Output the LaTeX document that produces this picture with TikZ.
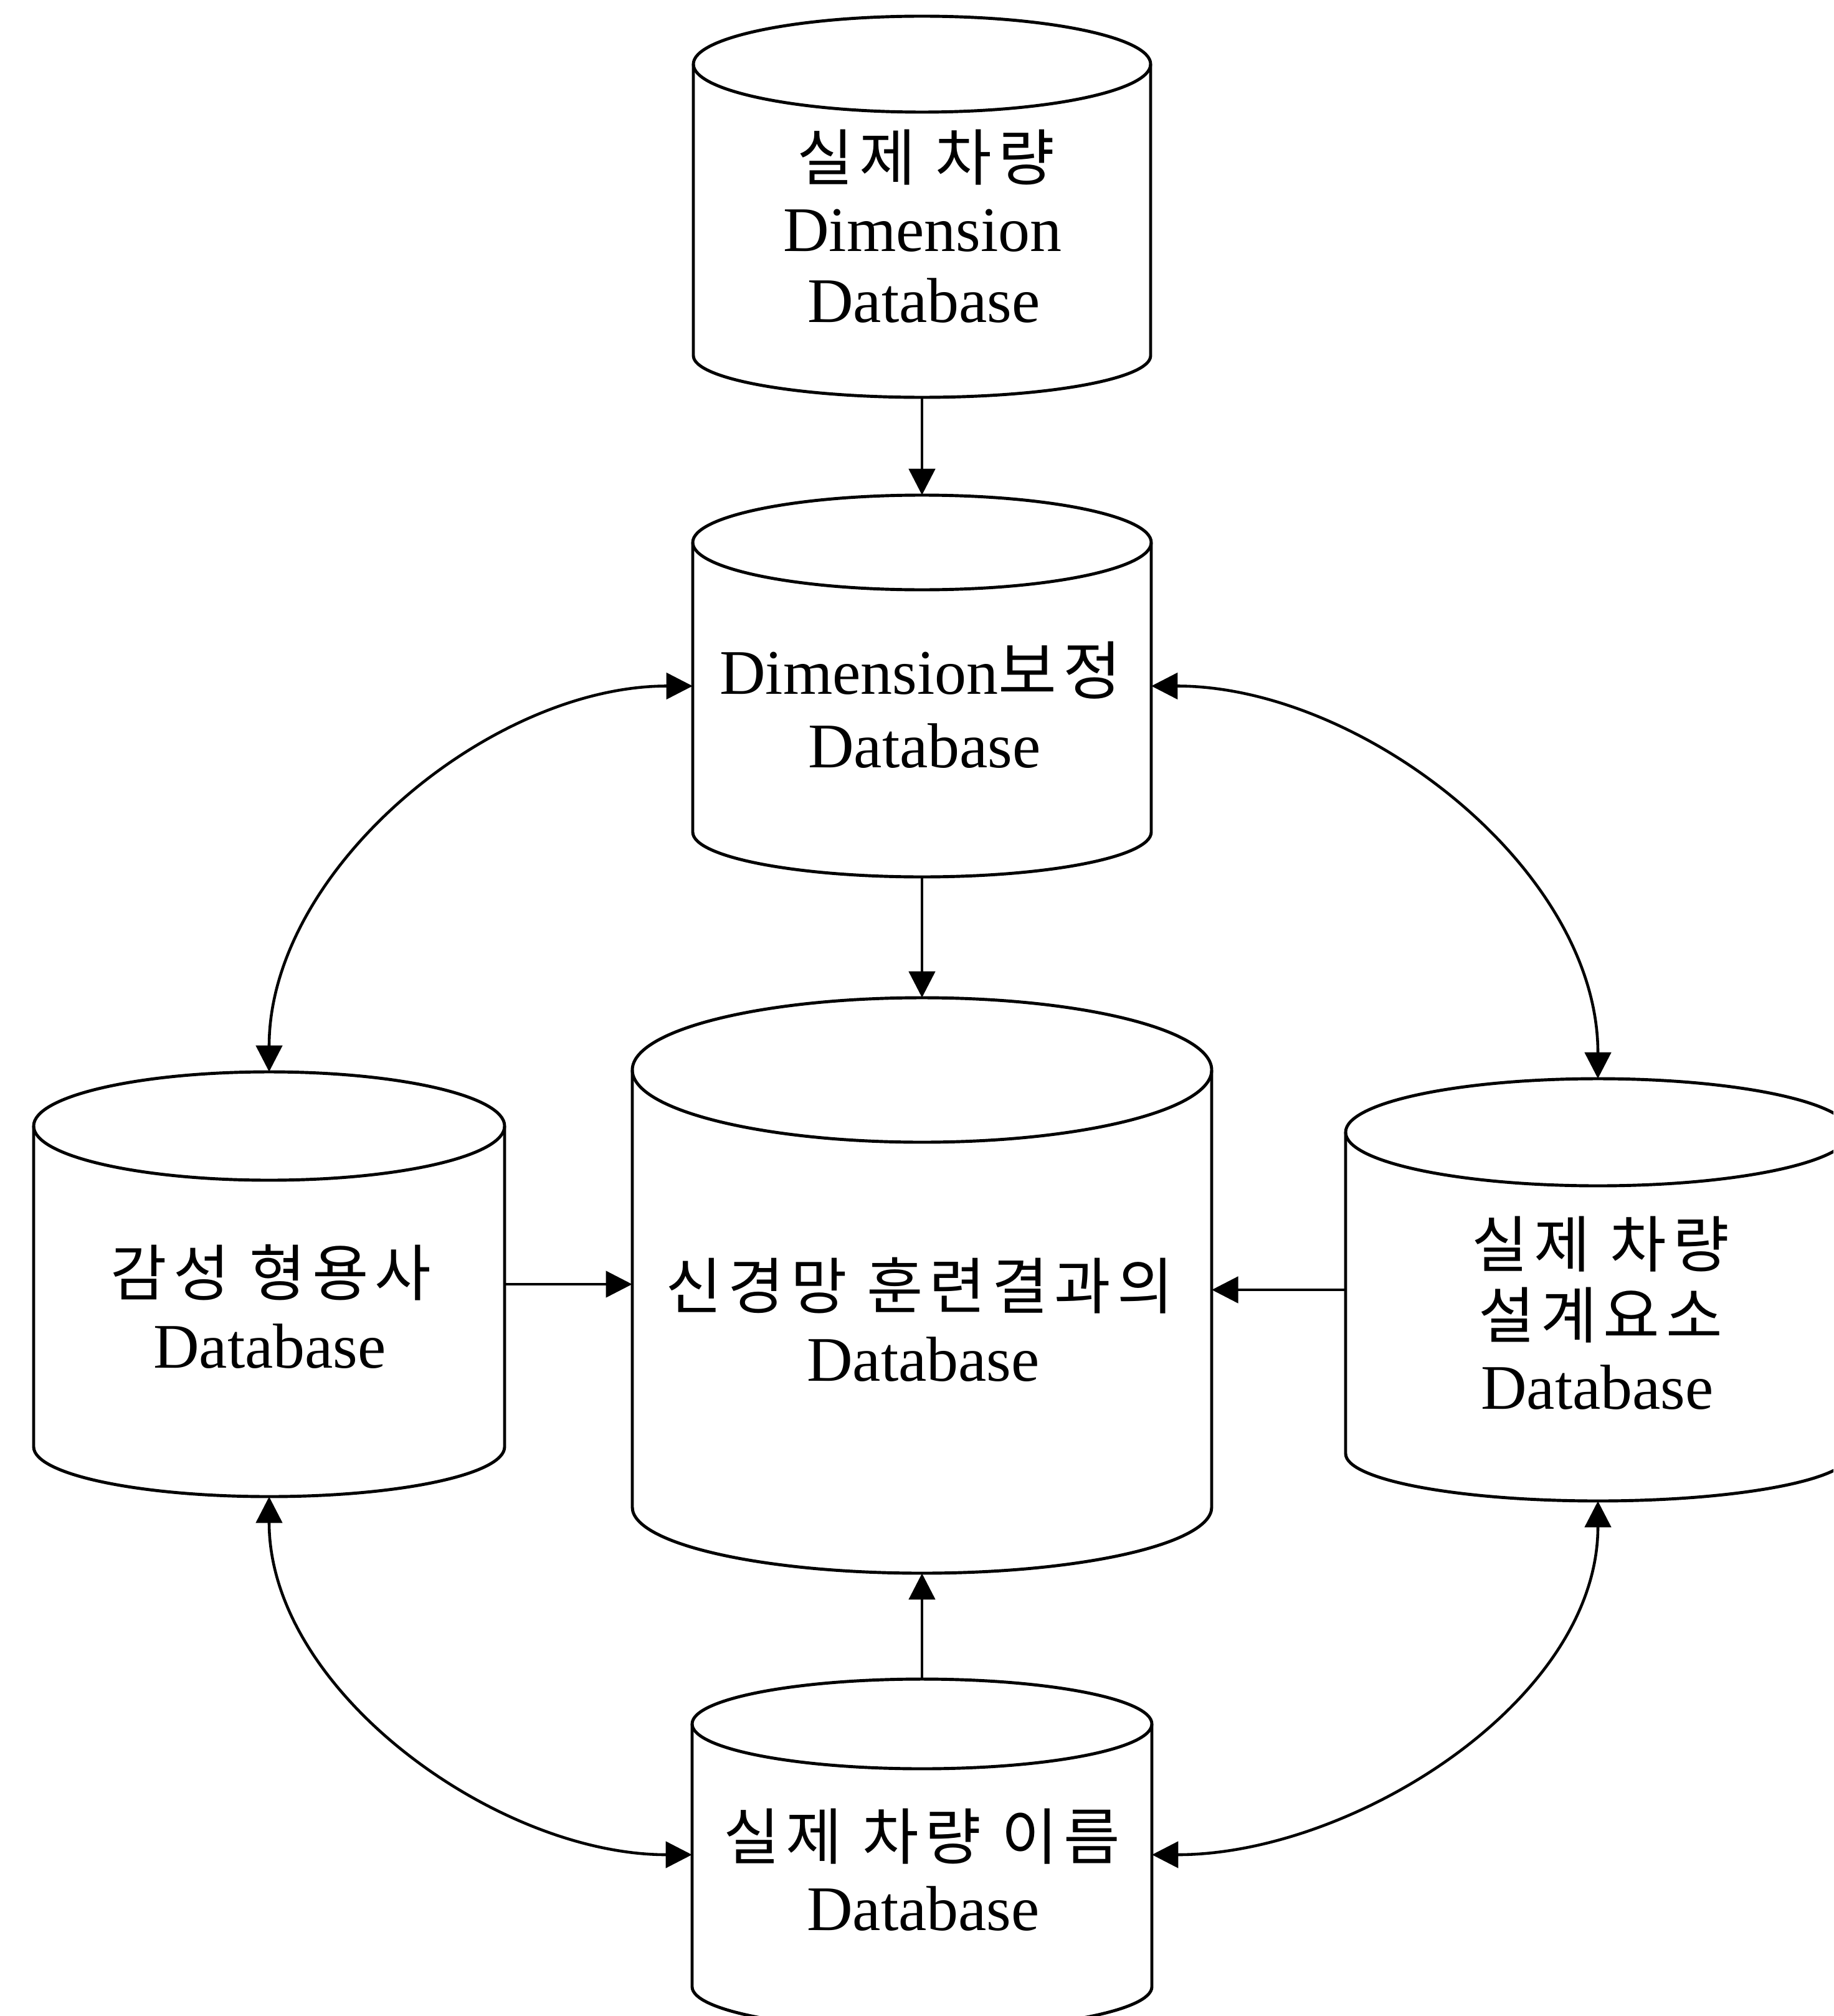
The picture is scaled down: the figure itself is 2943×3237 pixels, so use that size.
\documentclass[tikz,border=0pt]{standalone}
\usepackage{fontspec}
\setmainfont{Liberation Serif}
\newfontfamily\krfont[LetterSpace=10]{Noto Sans CJK KR}
\usetikzlibrary{arrows.meta}
% #1 cx, #2 ytop, #3 rx, #4 ry top, #5 y of bottom ellipse centre, #6 ry bottom
\newcommand\dbcylinder[6]{%
  \draw[cyl] (#1,-#2-#4) ellipse [x radius=#3, y radius=#4];
  \draw[cyl] (#1-#3,-#2-#4) -- (#1-#3,-#5)
     arc[start angle=180,end angle=360,x radius=#3,y radius=#6] -- (#1+#3,-#2-#4);
}
\begin{document}
\begin{tikzpicture}[x=0.01cm,y=0.01cm,
  >={Triangle[length=12pt,width=12pt]},
  frame/.style={rectangle,draw=none,inner sep=0pt,outer sep=0pt},
  cyl/.style={line width=1.4pt,line join=round},
  conn/.style={line width=1.3pt},
  lat/.style={font=\fontsize{29}{33}\selectfont,inner sep=0pt,anchor=base},
  kor/.style={font=\fontsize{28}{33}\selectfont\krfont,inner sep=0pt,anchor=base}]
\useasboundingbox (0,0) rectangle (2943,-3237);
\clip (0,0) rectangle (2943,-3237);

% cylinders
\dbcylinder{1480}{26}{367}{77}{571}{67}
\dbcylinder{1480}{795}{368}{76}{1336}{72}
\dbcylinder{1480}{1602}{465}{116}{2420}{106}
\dbcylinder{432}{1721}{378}{87}{2323}{80}
\dbcylinder{2565}{1732}{405}{86}{2334}{76}
\dbcylinder{1480}{2696}{369}{72}{3190}{70}

% named frames of the cylinders
\node[frame,minimum width=7.34cm,minimum height=6.12cm] (T) at (1480,-332) {};
\node[frame,minimum width=7.36cm,minimum height=6.13cm] (D) at (1480,-1101.5) {};
\node[frame,minimum width=9.30cm,minimum height=9.24cm] (C) at (1480,-2064) {};
\node[frame,minimum width=7.56cm,minimum height=6.82cm] (L) at (432,-2062) {};
\node[frame,minimum width=8.10cm,minimum height=6.78cm] (R) at (2565,-2071) {};
\node[frame,minimum width=7.38cm,minimum height=5.64cm] (B) at (1480,-2978) {};

% texts
\node[kor] (t1a) at (1486,-290) {실제 차량};
\node[lat] (t1b) at (1481,-404) {Dimension};
\node[lat] (t1c) at (1483,-518) {Database};
\node[lat] (t2a) at (1478,-1114) {Dimension{\krfont 보정}};
\node[lat] (t2b) at (1484,-1232) {Database};
\node[kor] (t3a) at (1476,-2101) {신경망 훈련결과의};
\node[lat] (t3b) at (1482,-2217) {Database};
\node[kor] (t4a) at (435,-2080) {감성 형용사};
\node[lat] (t4b) at (433,-2196) {Database};
\node[kor] (t5a) at (2569,-2034) {실제 차량};
\node[kor] (t5b) at (2569,-2148) {설계요소};
\node[lat] (t5c) at (2564,-2262) {Database};
\node[kor] (t6a) at (1480,-2985) {실제 차량 이름};
\node[lat] (t6b) at (1482,-3099) {Database};

% connectors
\draw[conn,->] (T.south) -- (D.north);
\draw[conn,->] (D.south) -- (C.north);
\draw[conn,->] (B.north) -- (C.south);
\draw[conn,->] (L.east) -- (L.east -| C.west);
\draw[conn,->] (R.west) -- (R.west -| C.east);
\draw[conn,<->] (L.north) to[out=90,in=180,looseness=0.9] (D.west);
\draw[conn,<->] (R.north) to[out=90,in=0,looseness=0.9] (D.east);
\draw[conn,<->] (L.south) to[out=-90,in=180,looseness=0.9] (B.west);
\draw[conn,<->] (R.south) to[out=-90,in=0,looseness=0.9] (B.east);
\end{tikzpicture}
\end{document}
